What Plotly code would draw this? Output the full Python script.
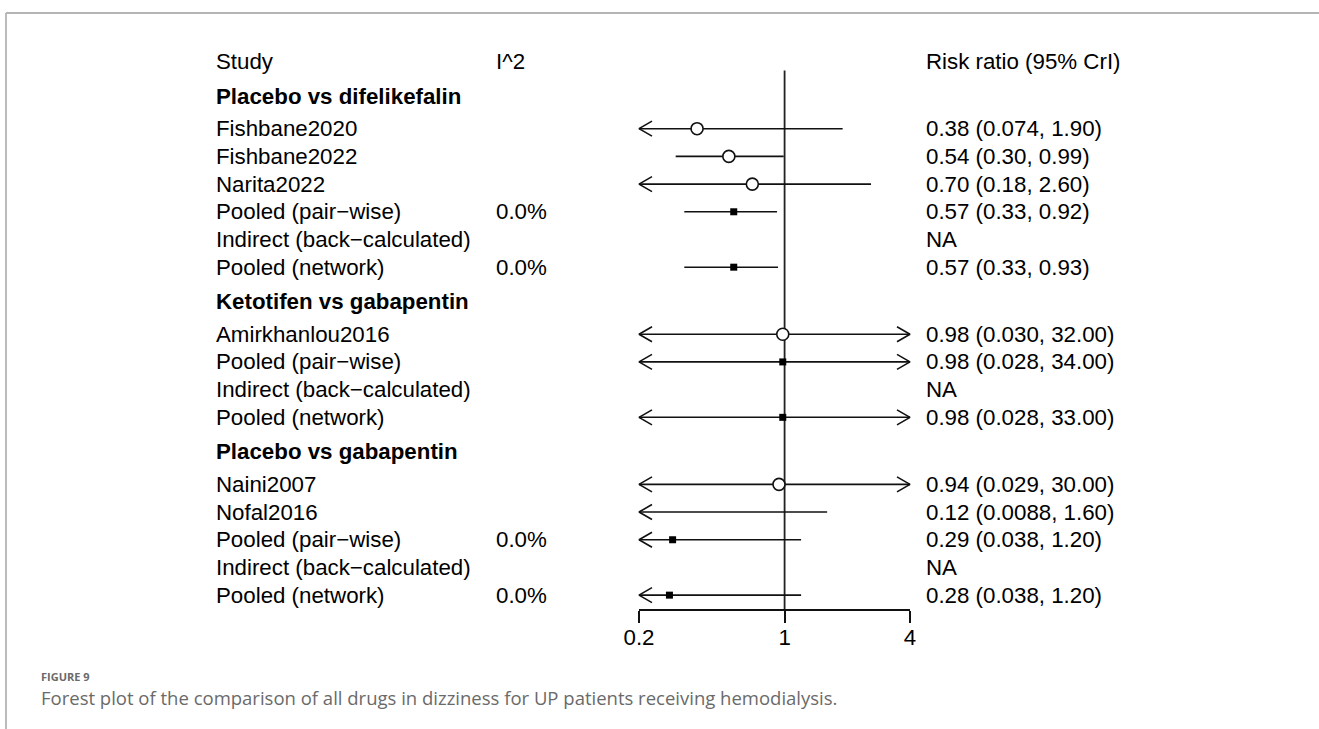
import math
import plotly.graph_objects as go

# ---------------- data ----------------
group_names = ["Placebo vs difelikefalin", "Ketotifen vs gabapentin", "Placebo vs gabapentin"]
row_group = [0, 0, 0, 0, 0, 0, 1, 1, 1, 1, 2, 2, 2, 2, 2]
row_labels = [
    "Fishbane2020", "Fishbane2022", "Narita2022", "Pooled (pair\u2212wise)",
    "Indirect (back\u2212calculated)", "Pooled (network)",
    "Amirkhanlou2016", "Pooled (pair\u2212wise)", "Indirect (back\u2212calculated)", "Pooled (network)",
    "Naini2007", "Nofal2016", "Pooled (pair\u2212wise)", "Indirect (back\u2212calculated)", "Pooled (network)",
]
row_kind = ["study", "study", "study", "pooled", "indirect", "pooled",
            "study", "pooled", "indirect", "pooled",
            "study", "study", "pooled", "indirect", "pooled"]
i2_text = ["", "", "", "0.0%", "", "0.0%", "", "", "", "", "", "", "0.0%", "", "0.0%"]
rr_est = [0.38, 0.54, 0.70, 0.57, None, 0.57, 0.98, 0.98, None, 0.98, 0.94, 0.12, 0.29, None, 0.28]
rr_lo = [0.074, 0.30, 0.18, 0.33, None, 0.33, 0.030, 0.028, None, 0.028, 0.029, 0.0088, 0.038, None, 0.038]
rr_hi = [1.90, 0.99, 2.60, 0.92, None, 0.93, 32.0, 34.0, None, 33.0, 30.0, 1.60, 1.20, None, 1.20]
rr_text = [
    "0.38 (0.074, 1.90)", "0.54 (0.30, 0.99)", "0.70 (0.18, 2.60)", "0.57 (0.33, 0.92)", "NA",
    "0.57 (0.33, 0.93)",
    "0.98 (0.030, 32.00)", "0.98 (0.028, 34.00)", "NA", "0.98 (0.028, 33.00)",
    "0.94 (0.029, 30.00)", "0.12 (0.0088, 1.60)", "0.29 (0.038, 1.20)", "NA", "0.28 (0.038, 1.20)",
]
col_headers = ["Study", "I^2", "Risk ratio (95% CrI)"]
axis_min, axis_max = 0.2, 4.0
tick_vals = [0.2, 1, 4]
tick_labels = ["0.2", "1", "4"]
null_value = 1
caption_label = "FIGURE 9"
caption_text = "Forest plot of the comparison of all drugs in dizziness for UP patients receiving hemodialysis."

# ---------------- layout constants ----------------
W, H = 1319, 729
AX_L, AX_R = 639, 910          # pixel extent of the 0.2..4 axis
AX_Y = 609                     # pixel y of the axis line
ROW_PX = 27.7
FONT = "Liberation Sans, Arial, Helvetica, sans-serif"
FS = 22.3
INK = "#111111"

# row positions (row units, downward)
header_y = []
row_y = []
p = 0.0
last_g = None
for g, lab in zip(row_group, row_labels):
    if g != last_g:
        p += 1.25
        header_y.append(p)
        p += 1.17
        last_g = g
    else:
        p += 1.0
    row_y.append(p)
axis_pos = p + 0.5
y_top = axis_pos - AX_Y / ROW_PX

px_per_dec = (AX_R - AX_L) / (math.log10(axis_max) - math.log10(axis_min))
x_range = [math.log10(axis_min) - AX_L / px_per_dec, math.log10(axis_max) + (W - AX_R) / px_per_dec]
arrow_dx = 10 ** (13 / px_per_dec)
arrow_dy = 7.5 / ROW_PX

fig = go.Figure()

# reference line
fig.add_trace(go.Scatter(x=[null_value, null_value], y=[0.32, axis_pos], mode="lines",
                         line=dict(color="#222222", width=1.8), hoverinfo="skip", showlegend=False))

# CI lines and arrows
ci_x, ci_y, ar_x, ar_y = [], [], [], []
for y, lo, hi in zip(row_y, rr_lo, rr_hi):
    if lo is None:
        continue
    ci_x += [max(lo, axis_min), min(hi, axis_max), None]
    ci_y += [y, y, None]
    if lo < axis_min:
        ar_x += [axis_min * arrow_dx, axis_min, axis_min * arrow_dx, None]
        ar_y += [y - arrow_dy, y, y + arrow_dy, None]
    if hi > axis_max:
        ar_x += [axis_max / arrow_dx, axis_max, axis_max / arrow_dx, None]
        ar_y += [y - arrow_dy, y, y + arrow_dy, None]
fig.add_trace(go.Scatter(x=ci_x, y=ci_y, mode="lines", line=dict(color=INK, width=1.6),
                         hoverinfo="skip", showlegend=False))
fig.add_trace(go.Scatter(x=ar_x, y=ar_y, mode="lines", line=dict(color=INK, width=1.6),
                         hoverinfo="skip", showlegend=False))

# point estimates
sx, sy, qx, qy = [], [], [], []
for y, e, k in zip(row_y, rr_est, row_kind):
    if e is None or e < axis_min or e > axis_max:
        continue
    if k == "study":
        sx.append(e); sy.append(y)
    else:
        qx.append(e); qy.append(y)
fig.add_trace(go.Scatter(x=sx, y=sy, mode="markers",
                         marker=dict(symbol="circle", size=12, color="white",
                                     line=dict(color=INK, width=1.6)),
                         hoverinfo="skip", showlegend=False, cliponaxis=False))
fig.add_trace(go.Scatter(x=qx, y=qy, mode="markers",
                         marker=dict(symbol="square", size=7, color="black",
                                     line=dict(color="black", width=0)),
                         hoverinfo="skip", showlegend=False, cliponaxis=False))

# dummy trace for the visible axis
fig.add_trace(go.Scatter(x=[axis_min, axis_max], y=[axis_pos, axis_pos], xaxis="x2", yaxis="y",
                         mode="markers", marker=dict(opacity=0), hoverinfo="skip", showlegend=False))

# text columns
col_x = [214, 494, 924]
ann = []
def txt(x, y, s, bold=False):
    ann.append(dict(x=x / W, xref="paper", y=y, yref="y", text=("<b>%s</b>" % s) if bold else s,
                    showarrow=False, xanchor="left", yanchor="middle",
                    font=dict(family=FONT, size=FS, color="black")))

for cx, h in zip(col_x, col_headers):
    txt(cx, 0, h)
for gy, gname in zip(header_y, group_names):
    txt(col_x[0], gy, gname, bold=True)
for y, lab, i2, rt in zip(row_y, row_labels, i2_text, rr_text):
    txt(col_x[0], y, lab)
    if i2:
        txt(col_x[1], y, i2)
    txt(col_x[2], y, rt)

# caption
ann.append(dict(x=39 / W, xref="paper", y=1 - 676 / H, yref="paper", text="<b>%s</b>" % caption_label,
                showarrow=False, xanchor="left", yanchor="middle",
                font=dict(family="Open Sans, sans-serif", size=11, color="#6a6a6a")))
ann.append(dict(x=39 / W, xref="paper", y=1 - 697 / H, yref="paper", text=caption_text,
                showarrow=False, xanchor="left", yanchor="middle",
                font=dict(family="Open Sans, sans-serif", size=18.5, color="#6a6a6a")))

shapes = [
    dict(type="line", xref="paper", yref="paper", x0=6 / W, x1=1, y0=1 - 13 / H, y1=1 - 13 / H,
         line=dict(color="#b4b4b4", width=1.8)),
    dict(type="line", xref="paper", yref="paper", x0=6 / W, x1=6 / W, y0=0, y1=1 - 13 / H,
         line=dict(color="#b4b4b4", width=1.8)),
]

fig.update_layout(
    template="none",
    width=W, height=H, margin=dict(l=0, r=0, t=0, b=0, pad=0, autoexpand=False),
    paper_bgcolor="white", plot_bgcolor="rgba(0,0,0,0)",
    showlegend=False, annotations=ann, shapes=shapes,
    xaxis=dict(type="log", domain=[0, 1], range=x_range, visible=False, fixedrange=True,
               automargin=False),
    xaxis2=dict(type="log", domain=[AX_L / W, AX_R / W],
                range=[math.log10(axis_min), math.log10(axis_max)], anchor="y",
                showline=True, linecolor=INK, linewidth=1.6, ticks="outside", ticklen=12,
                tickwidth=1.6, tickcolor=INK, tickvals=tick_vals, ticktext=tick_labels,
                ticklabelstandoff=-5,
                tickfont=dict(family=FONT, size=FS, color="black"), showgrid=False,
                zeroline=False, fixedrange=True, automargin=False),
    yaxis=dict(domain=[1 - AX_Y / H, 1], range=[axis_pos, y_top], visible=False, fixedrange=True,
               automargin=False),
)

fig.write_html("out.html", config={"displayModeBar": False},
               post_script="document.body.style.margin='0';document.body.style.overflow='hidden';")
